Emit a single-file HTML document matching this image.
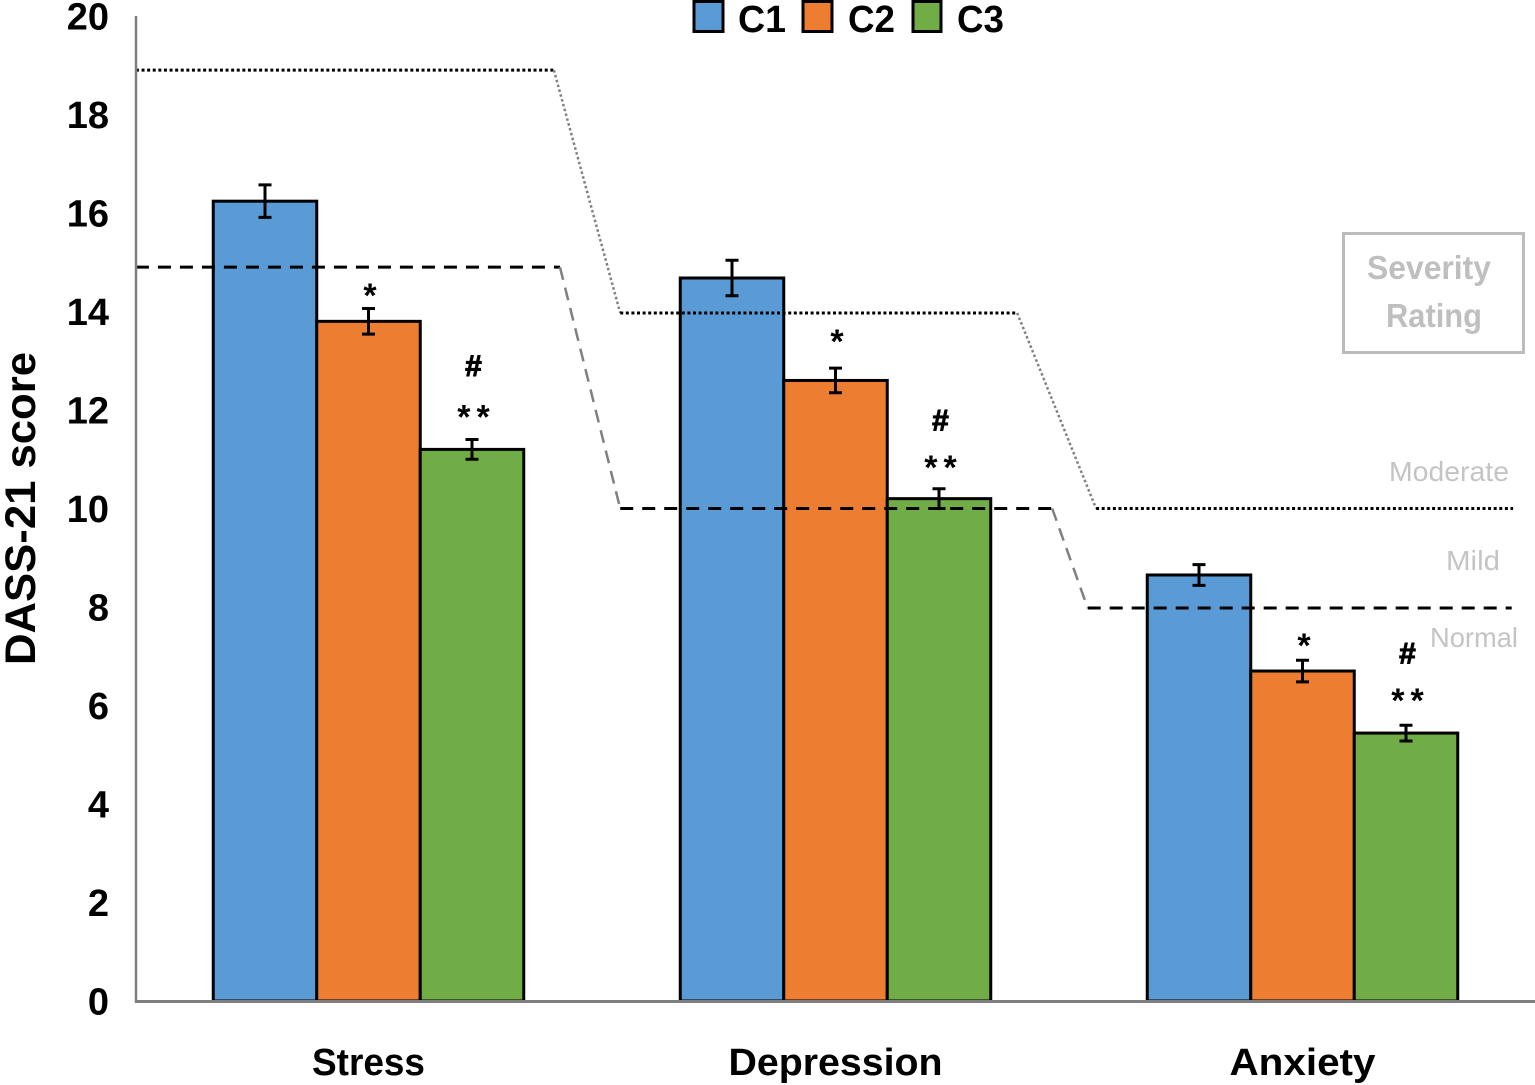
<!DOCTYPE html>
<html lang="en">
<head>
<meta charset="utf-8">
<title>DASS-21 score by severity</title>
<style>
html,body{margin:0;padding:0;background:#fff;}
svg{display:block;font-family:"Liberation Sans",sans-serif;}
</style>
</head>
<body>
<svg id="chart" xmlns="http://www.w3.org/2000/svg" width="1535" height="1085" viewBox="0 0 1535 1085">
  <g id="bars"></g>
  <g id="severity"></g>
  <g id="errors"></g>
  <g id="marks"></g>
  <g id="axes"></g>
  <text transform="translate(35,665) rotate(-90)" font-size="43" font-weight="700" fill="#000" textLength="313" lengthAdjust="spacingAndGlyphs">DASS-21 score</text>
  <g>
    <g>
      <rect x="694" y="1.5" width="29" height="30" fill="#5B9BD5" stroke="#000" stroke-width="3"/>
      <text x="738" y="32" font-size="38" font-weight="700" textLength="48" lengthAdjust="spacingAndGlyphs">C1</text>
    </g>
    <g>
      <rect x="803" y="1.5" width="29" height="30" fill="#ED7D31" stroke="#000" stroke-width="3"/>
      <text x="848" y="32" font-size="38" font-weight="700" textLength="47" lengthAdjust="spacingAndGlyphs">C2</text>
    </g>
    <g>
      <rect x="913" y="1.5" width="28" height="30" fill="#70AD47" stroke="#000" stroke-width="3"/>
      <text x="957" y="32" font-size="38" font-weight="700" textLength="47" lengthAdjust="spacingAndGlyphs">C3</text>
    </g>
  </g>
  <g>
    <rect x="1343.5" y="233.5" width="180" height="119" fill="#fff" stroke="#bcbcbc" stroke-width="3"/>
    <text x="1367" y="279" font-size="33" font-weight="700" fill="#bfbfbf" textLength="124" lengthAdjust="spacingAndGlyphs">Severity</text>
    <text x="1386" y="327" font-size="33" font-weight="700" fill="#bfbfbf" textLength="96" lengthAdjust="spacingAndGlyphs">Rating</text>
  </g>
  <text x="1389" y="481" font-size="28" fill="#c4c4c4" textLength="120" lengthAdjust="spacingAndGlyphs">Moderate</text>
  <text x="1446" y="570" font-size="28" fill="#c4c4c4" textLength="54" lengthAdjust="spacingAndGlyphs">Mild</text>
  <text x="1430" y="647" font-size="28" fill="#c4c4c4" textLength="88" lengthAdjust="spacingAndGlyphs">Normal</text>
</svg>
<script>
var categories = ["Stress", "Depression", "Anxiety"];
var seriesNames = ["C1", "C2", "C3"];
var c1Values = [16.24, 14.68, 8.65];
var c2Values = [13.8, 12.6, 6.7];
var c3Values = [11.2, 10.2, 5.44];
var c1Errors = [0.33, 0.36, 0.21];
var c2Errors = [0.26, 0.25, 0.22];
var c3Errors = [0.2, 0.2, 0.16];
var moderateThresholds = [18.9, 13.97, 10];
var mildThresholds = [14.9, 10, 7.98];
var singleStarLevels = [14.44, 13.5, 7.33];
var doubleStarLevels = [11.97, 10.94, 6.21];
var hashLevels = [12.9, 11.8, 7.07];
var yTicks = [0, 2, 4, 6, 8, 10, 12, 14, 16, 18, 20];

var NS = "http://www.w3.org/2000/svg";
var axisLeft = 135;
var bandWidth = 467;
var barWidth = 103.5;
var zeroY = 1001;
var unitY = 49.25;
function yScale(v) { return zeroY - v * unitY; }
function bandCenter(i) { return axisLeft + bandWidth * (i + 0.5); }
function bandX(u) { return axisLeft + bandWidth * u; }
function make(tag, parent, props) {
  var el = document.createElementNS(NS, tag);
  for (var k in props) { el.setAttribute(k, props[k]); }
  parent.appendChild(el);
  return el;
}

var barsG = document.getElementById("bars");
var errorsG = document.getElementById("errors");
var severityG = document.getElementById("severity");
var marksG = document.getElementById("marks");
var axesG = document.getElementById("axes");

var allValues = [c1Values, c2Values, c3Values];
var allErrors = [c1Errors, c2Errors, c3Errors];
var seriesColors = ["#5B9BD5", "#ED7D31", "#70AD47"];

categories.forEach(function (cat, i) {
  seriesNames.forEach(function (name, s) {
    var v = allValues[s][i];
    var e = allErrors[s][i];
    var left = bandCenter(i) + (s - 1.5) * barWidth;
    var cx = left + barWidth / 2;
    var rect = make("rect", barsG, { x: left, y: yScale(v), width: barWidth, height: zeroY - yScale(v), fill: seriesColors[s], stroke: "#000", "stroke-width": 3 });
    
    
    var eb = make("path", errorsG, {
      d: "M" + (cx - 6.5) + " " + yScale(v + e) + "H" + (cx + 6.5) + "M" + cx + " " + yScale(v + e) + "V" + yScale(v - e) + "M" + (cx - 6.5) + " " + yScale(v - e) + "H" + (cx + 6.5),
      fill: "none", stroke: "#000", "stroke-width": 3
    });
    
    
  });
});

function drawSteps(values, spans, dash, label, connectorDash) {
  values.forEach(function (v, i) {
    var seg = make("line", severityG, { x1: bandX(spans[i][0]), x2: bandX(spans[i][1]), y1: yScale(v), y2: yScale(v), stroke: "#000", "stroke-width": 3, "stroke-dasharray": dash });
    
    
    if (i < values.length - 1) {
      var conn = make("line", severityG, { x1: bandX(spans[i][1]), x2: bandX(spans[i + 1][0]), y1: yScale(v), y2: yScale(values[i + 1]), stroke: "#808080", "stroke-width": 2.5, "stroke-dasharray": connectorDash });
      
      
    }
  });
}
drawSteps(moderateThresholds, [[0.002, 0.897], [1.039, 1.889], [2.058, 2.951]], "3 2.6", "moderate", "2.5 2.5");
drawSteps(mildThresholds, [[0.002, 0.91], [1.039, 1.964], [2.04, 2.948]], "13 9", "mild", "13 8");

function drawMark(text, xOffset, level, size, label, i, spacing) {
  var t = make("text", marksG, { x: bandCenter(i) + xOffset, y: yScale(level) + size * 0.5, "font-size": size, "font-weight": 700, "text-anchor": "middle", fill: "#000", "letter-spacing": spacing });
  t.textContent = text;
  
  
}
categories.forEach(function (cat, i) {
  drawMark("*", 1.5, singleStarLevels[i], 34, "significance-star", i, 0);
  drawMark("**", 108, doubleStarLevels[i], 34, "significance-double-star", i, 6);
  var h = make("text", marksG, { x: bandCenter(i) + 105, y: yScale(hashLevels[i]) + 10.5, "font-size": 30, "font-weight": 700, "text-anchor": "middle", fill: "#000", stroke: "#000", "stroke-width": 1 });
  h.textContent = "#";
  
  
  var c = make("text", axesG, { x: bandCenter(i), y: 1075, "font-size": 38, "font-weight": 700, "text-anchor": "middle", fill: "#000", textLength: [113, 214, 146][i], lengthAdjust: "spacingAndGlyphs" });
  c.textContent = cat;
  
  
});

var yAxis = make("line", axesG, { x1: 136, x2: 136, y1: 16, y2: zeroY + 1.5, stroke: "#7f7f7f", "stroke-width": 2.5 });


var xAxis = make("line", axesG, { x1: 135, x2: 1535, y1: zeroY + 0.5, y2: zeroY + 0.5, stroke: "#7f7f7f", "stroke-width": 3 });



yTicks.forEach(function (t) {
  var lab = make("text", axesG, { x: 109, y: yScale(t) + 13.5, "font-size": 38, "font-weight": 700, "text-anchor": "end", fill: "#000" });
  lab.textContent = String(t);
  
  
});
</script>
</body>
</html>
